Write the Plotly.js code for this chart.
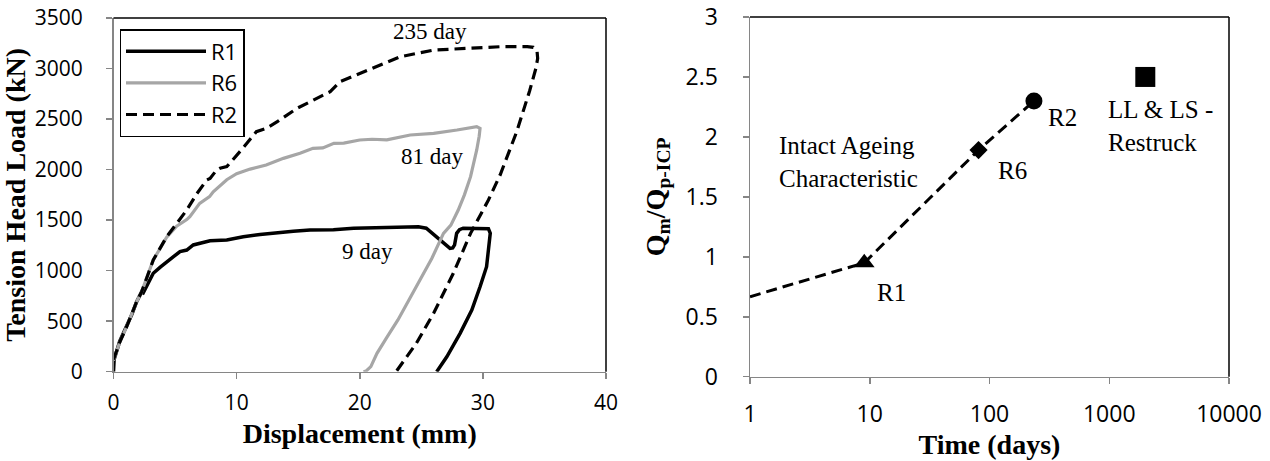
<!DOCTYPE html>
<html>
<head>
<meta charset="utf-8">
<script src="https://cdn.plot.ly/plotly-3.0.1.min.js"></script>
<style>html,body{margin:0;padding:0;background:#fff;}#chart{width:1270px;height:461px;}</style>
</head>
<body>
<div id="chart"></div>
<script>
// ---- Left panel: load-displacement curves ----
const r1Disp = [0, 0.05, 0.5, 1.07, 1.5, 1.88, 2.29, 2.42, 2.8, 3.23, 3.8, 4.32, 4.9, 5.4, 5.95, 6.48, 7.2, 7.84, 9.2, 10.54, 11.9, 13.26, 14.6, 15.96, 17.86, 19.5, 21.9, 24.0, 24.76, 25.4, 26.5, 27.33, 27.55, 27.7, 27.87, 28.1, 28.4, 30.45, 30.6, 30.3, 29.77, 29.1, 28.15, 27.07, 26.25];
const r1Load = [0, 120, 300, 445, 570, 693, 792, 782, 880, 974, 1035, 1089, 1140, 1188, 1204, 1254, 1280, 1296, 1303, 1336, 1357, 1376, 1390, 1402, 1405, 1420, 1425, 1430, 1435, 1420, 1303, 1221, 1225, 1254, 1369, 1405, 1420, 1415, 1370, 1039, 841, 610, 380, 148, 0];

const r6Disp = [0, 0.5, 1.07, 1.88, 2.29, 3.23, 4.32, 5.13, 5.95, 6.2, 7.0, 7.8, 8.1, 9.2, 10.0, 11.1, 12.4, 13.8, 15.15, 16.2, 17.0, 17.9, 18.7, 20.0, 21.0, 22.2, 24.1, 26.0, 27.9, 29.5, 29.77, 29.7, 29.5, 29.0, 28.5, 28.0, 27.4, 26.8, 25.85, 24.9, 24.0, 23.1, 22.2, 21.4, 20.9, 20.5, 20.3];
const r6Load = [110, 290, 445, 693, 792, 1105, 1330, 1440, 1505, 1534, 1666, 1732, 1781, 1900, 1960, 2005, 2045, 2111, 2161, 2210, 2215, 2260, 2262, 2293, 2300, 2295, 2342, 2359, 2392, 2425, 2408, 2330, 2194, 1930, 1750, 1600, 1450, 1369, 1120, 907, 700, 512, 340, 182, 50, 5, 0];

const r2Disp = [0, 0.5, 1.07, 1.88, 2.29, 3.23, 4.32, 5.13, 5.95, 6.76, 7.57, 7.84, 8.38, 8.65, 9.2, 10.5, 11.6, 12.4, 13.3, 14.9, 16.5, 17.6, 18.4, 20.0, 20.6, 22.5, 23.3, 26.0, 28.7, 31.4, 33.6, 34.1, 34.4, 34.45, 34.3, 33.8, 32.75, 31.4, 30.45, 29.0, 27.6, 26.0, 24.6, 23.3, 22.95];
const r2Load = [120, 290, 445, 693, 792, 1105, 1336, 1468, 1600, 1760, 1897, 1913, 1996, 2013, 2029, 2210, 2375, 2408, 2474, 2606, 2705, 2771, 2870, 2953, 2985, 3084, 3117, 3183, 3200, 3216, 3216, 3210, 3170, 3100, 3000, 2780, 2375, 1946, 1699, 1369, 974, 578, 281, 49, 0];

const xTicksLeft = [0, 10, 20, 30, 40];

// ---- Right panel: ageing characteristic ----
const ageTime = [1, 9, 81, 235];
const ageRatio = [0.667, 0.95, 1.89, 2.3];
const r1Time = [9],   r1Ratio = [0.95];
const r6Time = [81],  r6Ratio = [1.89];
const r2Time = [235], r2Ratio = [2.3];
const restruckTime = [2000];
const restruckRatio = [2.5];
const xTicksRight = [1, 10, 100, 1000, 10000];
const xTickTextRight = ['1', '10', '100', '1000', '10000'];

const serif = 'Liberation Serif, Times New Roman, serif';
const sans = 'Open Sans, Carlito, Calibri, sans-serif';
const axisGray = '#868686';

function pt(x, y, symbol, size) {
  return {x: x, y: y, mode: 'markers', showlegend: false, cliponaxis: false,
    marker: {color: '#000000', symbol: symbol, size: size, line: {width: 0}}, xaxis: 'x2', yaxis: 'y2'};
}

const traces = [
  {x: r1Disp, y: r1Load, name: 'R1', mode: 'lines', line: {color: '#000000', width: 3.5}, xaxis: 'x', yaxis: 'y'},
  {x: r6Disp, y: r6Load, name: 'R6', mode: 'lines', line: {color: '#a6a6a6', width: 3.2}, xaxis: 'x', yaxis: 'y'},
  {x: r2Disp, y: r2Load, name: 'R2', mode: 'lines', line: {color: '#000000', width: 3.2, dash: '11px,6px'}, xaxis: 'x', yaxis: 'y'},
  {x: ageTime, y: ageRatio, mode: 'lines', showlegend: false, line: {color: '#000000', width: 3, dash: '11px,6px'}, xaxis: 'x2', yaxis: 'y2'},
  pt(r1Time, r1Ratio, 'triangle-up', 18),
  pt(r6Time, r6Ratio, 'diamond', 14),
  pt(r2Time, r2Ratio, 'circle', 17),
  pt(restruckTime, restruckRatio, 'square', 20)
];

const axisCommon = {
  showline: true, linecolor: axisGray, linewidth: 1.5,
  ticks: 'outside', ticklen: 6, tickcolor: axisGray, tickwidth: 1.5,
  showgrid: false, zeroline: false, fixedrange: true
};

const W = 1270, H = 461;
const layout = {
  width: W, height: H,
  margin: {l: 0, r: 0, t: 0, b: 0},
  paper_bgcolor: '#ffffff', plot_bgcolor: '#ffffff',
  showlegend: true,
  legend: {
    x: 119.5 / W, y: 1 - 29 / H, xanchor: 'left', yanchor: 'top',
    bgcolor: '#ffffff', bordercolor: '#000000', borderwidth: 1.5,
    font: {family: sans, size: 22, color: '#000000'},
    itemwidth: 80, tracegroupgap: 0
  },
  xaxis: Object.assign({}, axisCommon, {
    domain: [113.5 / W, 606 / W], anchor: 'y', range: [0, 40], tickvals: xTicksLeft,
    tickfont: {family: sans, size: 21, color: '#000000'}, ticklabelstandoff: 6,
    title: {text: 'Displacement (mm)', font: {family: serif, size: 28, color: '#000000', weight: 'bold'}, standoff: 8}
  }),
  yaxis: Object.assign({}, axisCommon, {
    domain: [1 - 371.7 / H, 1 - 18 / H], anchor: 'x', range: [0, 3500], dtick: 500,
    tickfont: {family: sans, size: 21, color: '#000000'}, ticklabelstandoff: 19,
    title: {text: 'Tension Head Load (kN)', font: {family: serif, size: 28, color: '#000000', weight: 'bold'}, standoff: 3}
  }),
  xaxis2: Object.assign({}, axisCommon, {
    domain: [750 / W, 1229 / W], anchor: 'y2', type: 'log', range: [0, 4],
    tickvals: xTicksRight, ticktext: xTickTextRight,
    tickfont: {family: sans, size: 23, color: '#000000'}, ticklabelstandoff: 10,
    title: {text: 'Time (days)', font: {family: serif, size: 28, color: '#000000', weight: 'bold'}, standoff: 0}
  }),
  yaxis2: Object.assign({}, axisCommon, {
    domain: [1 - 376.7 / H, 1 - 17 / H], anchor: 'x2', range: [0, 3], dtick: 0.5,
    tickfont: {family: sans, size: 23, color: '#000000'}, ticklabelstandoff: 20,
    title: {text: 'Q<sub>m</sub>/Q<sub>p-ICP</sub>', font: {family: serif, size: 28, color: '#000000', weight: 'bold'}, standoff: 12}
  }),
  shapes: [
    {type: 'line', xref: 'x domain', yref: 'y domain', x0: 0, x1: 1, y0: 1, y1: 1, line: {color: '#000000', width: 1.5}},
    {type: 'line', xref: 'x domain', yref: 'y domain', x0: 1, x1: 1, y0: 0, y1: 1, line: {color: '#000000', width: 1.5}},
    {type: 'line', xref: 'x2 domain', yref: 'y2 domain', x0: 0, x1: 1, y0: 1, y1: 1, line: {color: '#000000', width: 1.5}},
    {type: 'line', xref: 'x2 domain', yref: 'y2 domain', x0: 1, x1: 1, y0: 0, y1: 1, line: {color: '#000000', width: 1.5}}
  ],
  annotations: [
    {xref: 'x', yref: 'y', x: 25.7, y: 3364, text: '235 day', showarrow: false, font: {family: serif, size: 23, color: '#000000'}},
    {xref: 'x', yref: 'y', x: 25.9, y: 2127, text: '81 day', showarrow: false, font: {family: serif, size: 23, color: '#000000'}},
    {xref: 'x', yref: 'y', x: 20.6, y: 1187, text: '9 day', showarrow: false, font: {family: serif, size: 23, color: '#000000'}},
    {xref: 'x2', yref: 'y2', x: 0.225, y: 1.79, xanchor: 'left', align: 'left', text: 'Intact Ageing<br>Characteristic', showarrow: false, font: {family: serif, size: 25, color: '#000000'}},
    {xref: 'x2', yref: 'y2', x: 1.042, y: 0.706, xanchor: 'left', text: 'R1', showarrow: false, font: {family: serif, size: 25, color: '#000000'}},
    {xref: 'x2', yref: 'y2', x: 2.056, y: 1.716, xanchor: 'left', text: 'R6', showarrow: false, font: {family: serif, size: 25, color: '#000000'}},
    {xref: 'x2', yref: 'y2', x: 2.473, y: 2.166, xanchor: 'left', text: 'R2', showarrow: false, font: {family: serif, size: 25, color: '#000000'}},
    {xref: 'x2', yref: 'y2', x: 2.973, y: 2.091, xanchor: 'left', align: 'left', text: 'LL &amp; LS -<br>Restruck', showarrow: false, font: {family: serif, size: 25, color: '#000000'}}
  ]
};

Plotly.newPlot('chart', traces, layout, {displayModeBar: false, staticPlot: true});
</script>
</body>
</html>
